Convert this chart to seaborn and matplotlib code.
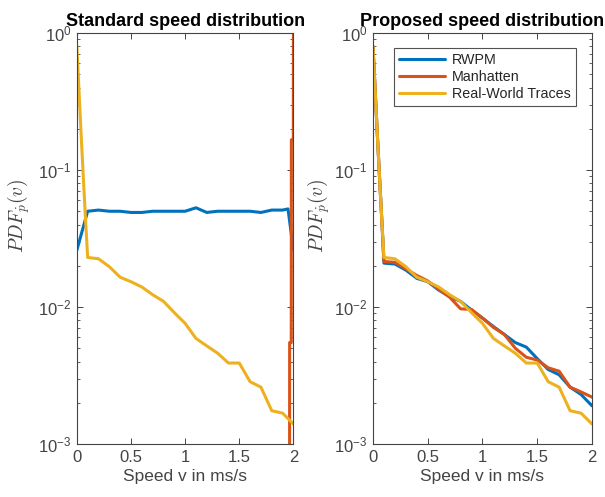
import numpy as np
import pandas as pd
import matplotlib
matplotlib.use("Agg")
import matplotlib.pyplot as plt
from matplotlib.ticker import LogLocator, FixedLocator, NullFormatter
import seaborn as sns

# Speed grid (m/s): fine steps near zero, then 0.1 steps
speed = [0.0, 0.02, 0.04, 0.06, 0.08, 0.1, 0.2, 0.3, 0.4, 0.5, 0.6, 0.7,
         0.8, 0.9, 1.0, 1.1, 1.2, 1.3, 1.4, 1.5, 1.6, 1.7, 1.8, 1.9, 2.0]

# Standard speed distribution
rwpm_std_speed = [0.0, 0.1, 0.2, 0.3, 0.4, 0.5, 0.6, 0.7, 0.8, 0.9, 1.0,
                  1.1, 1.2, 1.3, 1.4, 1.5, 1.6, 1.7, 1.8, 1.9, 1.95, 2.0]
rwpm_std_pdf = [0.026, 0.050, 0.051, 0.050, 0.050, 0.049, 0.049, 0.050,
                0.050, 0.050, 0.050, 0.053, 0.049, 0.050, 0.050, 0.050,
                0.050, 0.049, 0.051, 0.051, 0.052, 0.026]
manh_std_speed = [1.964, 1.965, 1.980, 1.981, 1.999, 2.0]
manh_std_pdf = [1e-4, 0.0055, 0.0055, 0.166, 0.166, 1.0]

# Real-world traces (same in both panels)
real_pdf = [0.80, 0.38, 0.18, 0.088, 0.044, 0.023, 0.0225, 0.0197, 0.0165,
            0.0153, 0.0140, 0.0123, 0.0110, 0.0091, 0.0076, 0.0059, 0.0052,
            0.0046, 0.0039, 0.0039, 0.00285, 0.0026, 0.00175, 0.00168, 0.0014]

# Proposed speed distribution
rwpm_prop_pdf = [0.80, 0.38, 0.18, 0.088, 0.044, 0.0209, 0.0206, 0.0186,
                 0.0162, 0.0153, 0.0133, 0.0119, 0.0110, 0.0095, 0.0083,
                 0.0072, 0.0063, 0.0055, 0.0051, 0.0042, 0.0035, 0.0032,
                 0.0026, 0.0023, 0.0019]
manh_prop_pdf = [0.80, 0.38, 0.18, 0.088, 0.044, 0.0215, 0.0212, 0.0190,
                 0.0170, 0.0155, 0.0135, 0.0118, 0.0097, 0.0096, 0.0083,
                 0.0071, 0.0063, 0.0050, 0.0043, 0.0041, 0.0036, 0.0034,
                 0.0026, 0.0024, 0.0022]

labels = ["RWPM", "Manhatten", "Real-World Traces"]
colors = ["#0072BD", "#D95319", "#EDB120"]

sns.set_theme(style="ticks")
plt.rcParams["font.family"] = ["Liberation Sans", "DejaVu Sans"]
plt.rcParams["mathtext.fontset"] = "custom"
plt.rcParams["mathtext.rm"] = "Liberation Sans"
plt.rcParams["mathtext.it"] = "Liberation Sans:italic"
plt.rcParams["mathtext.bf"] = "Liberation Sans:bold"

fig = plt.figure(figsize=(6.05, 4.97), dpi=100)
ax1 = fig.add_axes([0.127, 0.1066, 0.358, 0.827])
ax2 = fig.add_axes([0.6165, 0.1066, 0.362, 0.827])

left_series = [
    (rwpm_std_speed, rwpm_std_pdf),
    (manh_std_speed, manh_std_pdf),
    (speed, real_pdf),
]
right_series = [
    (speed, rwpm_prop_pdf),
    (speed, manh_prop_pdf),
    (speed, real_pdf),
]

for ax, series in ((ax1, left_series), (ax2, right_series)):
    for (x, y), lab, col in zip(series, labels, colors):
        df = pd.DataFrame({"v": x, "pdf": y})
        sns.lineplot(data=df, x="v", y="pdf", ax=ax, color=col, lw=2.2,
                     estimator=None, sort=False, label=lab, legend=False)

axis_col = "#262626"
tick_col = "#444444"
for ax, title, lx in ((ax1, "Standard speed distribution", -0.205),
                      (ax2, "Proposed speed distribution", -0.185)):
    ax.set_yscale("log")
    ax.set_xlim(0, 2)
    ax.set_ylim(1e-3, 1)
    ax.xaxis.set_major_locator(FixedLocator([0, 0.5, 1, 1.5, 2]))
    ax.set_xticklabels(["0", "0.5", "1", "1.5", "2"])
    ax.yaxis.set_major_locator(FixedLocator([1e-3, 1e-2, 1e-1, 1]))
    ax.set_yticklabels([r"$10^{-3}$", r"$10^{-2}$", r"$10^{-1}$", r"$10^{0}$"])
    ax.yaxis.set_minor_locator(LogLocator(base=10, subs=np.arange(2, 10)))
    ax.yaxis.set_minor_formatter(NullFormatter())
    ax.tick_params(which="both", direction="in", top=True, right=True,
                   colors=tick_col, labelsize=12, pad=4)
    ax.tick_params(which="major", length=4, width=0.7)
    ax.tick_params(which="minor", length=2, width=0.6)
    for s in ax.spines.values():
        s.set_color(tick_col)
        s.set_linewidth(0.8)
    ax.set_title(title, fontsize=13, fontweight="bold", color="black", pad=5)
    ax.set_xlabel("Speed v in ms/s", fontsize=12.5, color=tick_col, labelpad=3)
    ax.set_ylabel(r"$PDF_{\dot{p}}(v)$", fontsize=14, color=tick_col,
                  math_fontfamily="cm")
    ax.yaxis.set_label_coords(lx, 0.555)

leg = ax2.legend(loc="upper right", bbox_to_anchor=(0.96, 0.98), fontsize=10.3,
                 frameon=True, fancybox=False, edgecolor=axis_col,
                 handlelength=3.2, borderpad=0.35, labelspacing=0.2,
                 handletextpad=0.5)
leg.get_frame().set_linewidth(0.8)
for t in leg.get_texts():
    t.set_color(axis_col)

fig.savefig("out.png", dpi=100)
